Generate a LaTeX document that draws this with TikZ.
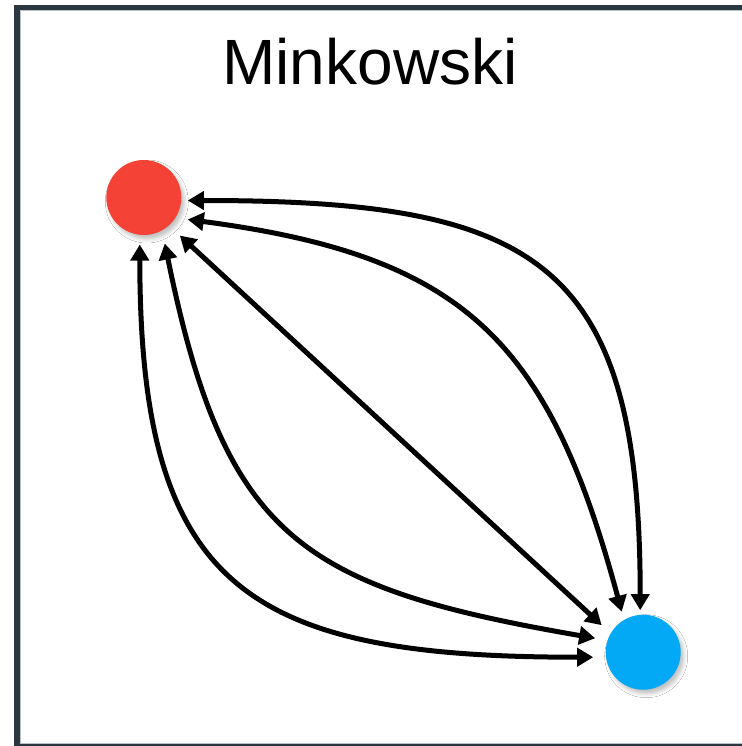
\documentclass[tikz,border=0pt]{standalone}
\usepackage{fontspec}
\setmainfont{Liberation Sans}
\usetikzlibrary{arrows.meta,calc,shadows.blur}
\definecolor{nodered}{HTML}{F44336}
\definecolor{nodeblue}{HTML}{03A9F4}
\definecolor{framedark}{HTML}{2B373F}
\definecolor{frameedge}{HTML}{B8C2C8}

\begin{document}
\begin{tikzpicture}[x=1pt,y=-1pt,
  dot/.style={circle, minimum size=75pt, inner sep=0pt,
    blur shadow={shadow xshift=3pt, shadow yshift=-4pt,
      shadow blur radius=4pt, shadow opacity=25}},
  link/.style={line width=5pt,
    {Triangle[length=16pt,width=18pt]}-{Triangle[length=16pt,width=18pt]}},
  title/.style={anchor=base, inner sep=0pt,
    font=\fontsize{64}{72}\selectfont}]
  % page and frame
  \useasboundingbox (0,0) rectangle (741,746);
  \fill[white] (0,0) rectangle (741,746);
  \draw[frameedge, line width=1pt] (20.5,10.5) rectangle (760,743.5);
  \draw[framedark, line width=5.5pt] (17,7.5) rectangle (760,747);

  % title
  \node[title] (heading) at (370,85) {Minkowski};

  % the two points
  \node[dot, fill=nodered]  (red)  at (143.8,197.5) {};
  \node[dot, fill=nodeblue] (blue) at (643.2,652.2) {};

  % ends of the connectors around each point
  \coordinate (r1) at ($(red)+(44,3)$);
  \coordinate (r2) at ($(red)+(44,22)$);
  \coordinate (r3) at ($(red)+(36,38)$);
  \coordinate (r4) at ($(red)+(21,46)$);
  \coordinate (r5) at ($(red)+(-4,47)$);
  \coordinate (b1) at ($(blue)+(-3,-42)$);
  \coordinate (b2) at ($(blue)+(-21.5,-40.5)$);
  \coordinate (b3) at ($(blue)+(-41.5,-27)$);
  \coordinate (b4) at ($(blue)+(-48,-14)$);
  \coordinate (b5) at ($(blue)+(-50,5)$);

  % connectors
  \draw[link] (r1) .. controls +(350,0) and +(0,-350) .. (b1);
  \draw[link] (r2) .. controls +(277.5,36.4) and +(-72.8,-270.4) .. (b2);
  \draw[link] (r3) -- (b3);
  \draw[link] (r4) .. controls +(60,294) and +(-295.5,-51) .. (b4);
  \draw[link] (r5) .. controls +(0,345) and +(-345,0) .. (b5);
\end{tikzpicture}
\end{document}
